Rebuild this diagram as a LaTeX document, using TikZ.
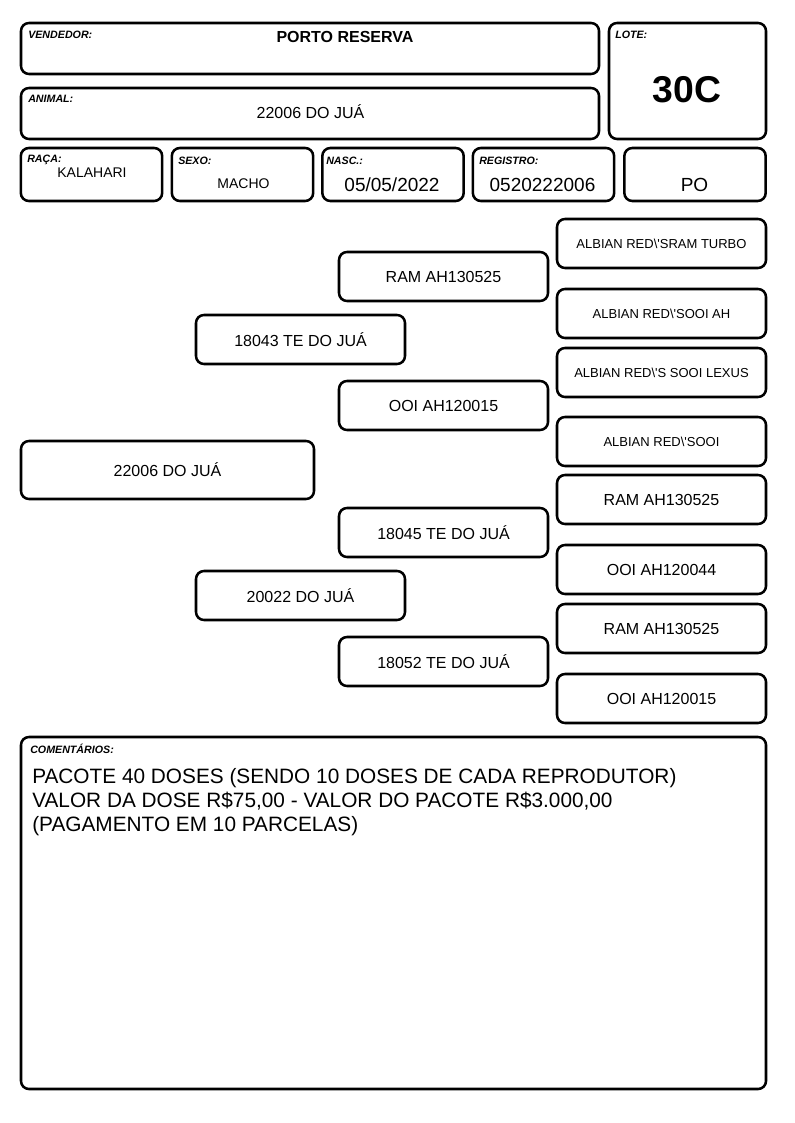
\documentclass[tikz,border=0pt]{standalone}
\usepackage{fontspec}
\setmainfont{Liberation Sans}
\usepackage{tikz}

\begin{document}
\begin{tikzpicture}[x=0.75bp,y=-0.75bp,
  box/.style={draw,line width=1.9bp,rounded corners=6bp,inner sep=0pt},
  tag/.style={anchor=base west,inner sep=0pt,font=\fontsize{8bp}{9bp}\selectfont\bfseries\itshape},
  val/.style={anchor=base,inner sep=0pt},
  cell/.style={box,minimum width=106bp,minimum height=39.75bp},
  ped/.style={box,minimum width=156.75bp,minimum height=36.75bp,font=\fontsize{12bp}{14bp}\selectfont},
  albian/.style={ped,font=\fontsize{9.75bp}{11bp}\selectfont},
  note/.style={val,anchor=base west,font=\fontsize{15.6bp}{18bp}\selectfont}]
  \useasboundingbox (0,0) rectangle (794,1123);

  % header
  \node[box,minimum width=433.5bp,minimum height=38.25bp] (vend) at (310,48.5) {};
  \node[box,minimum width=433.5bp,minimum height=38.25bp] (anim) at (310,113.5) {};
  \node[box,minimum width=117.75bp,minimum height=87bp] (lote) at (687.5,81) {};
  \node[cell] (raca) at (91.5,174.5) {};
  \node[cell] (sexo) at (242.5,174.5) {};
  \node[cell] (nasc) at (393,174.5) {};
  \node[cell] (reg) at (543.5,174.5) {};
  \node[cell] (po) at (695,174.5) {};

  \node[tag] (vendt) at (28,39) {VENDEDOR:};
  \node[tag] (animt) at (28,103) {ANIMAL:};
  \node[tag] (lotet) at (615,39) {LOTE:};
  \node[tag] (racat) at (27,163) {RAÇA:};
  \node[tag] (sexot) at (178,165) {SEXO:};
  \node[tag] (nasct) at (326,165) {NASC.:};
  \node[tag] (regt) at (479,165) {REGISTRO:};

  \node[val,font=\fontsize{12bp}{14bp}\selectfont\bfseries] (vendv) at (345,43) {PORTO RESERVA};
  \node[val,font=\fontsize{12bp}{14bp}\selectfont] (animv) at (310.5,119) {22006 DO JUÁ};
  \node[val,font=\fontsize{28bp}{30bp}\selectfont\bfseries] (lotev) at (687,103) {30C};
  \node[val,font=\fontsize{10.5bp}{12bp}\selectfont] (racav) at (92,178) {KALAHARI};
  \node[val,font=\fontsize{10.5bp}{12bp}\selectfont] (sexov) at (243.5,189) {MACHO};
  \node[val,font=\fontsize{14.25bp}{16bp}\selectfont] (nascv) at (392,192) {05/05/2022};
  \node[val,font=\fontsize{14.25bp}{16bp}\selectfont] (regv) at (542.5,192) {0520222006};
  \node[val,font=\fontsize{14.25bp}{16bp}\selectfont] (pov) at (694.5,192) {PO};

  % pedigree
  \node[ped,minimum width=219.75bp,minimum height=43.5bp] (an) at (167.5,470) {22006 DO JUÁ};
  \node[ped] (s) at (300.5,339.5) {18043 TE DO JUÁ};
  \node[ped] (d) at (300.5,595.5) {20022 DO JUÁ};
  \node[ped] (ss) at (443.5,276.5) {RAM AH130525};
  \node[ped] (sd) at (443.5,405.5) {OOI AH120015};
  \node[ped] (ds) at (443.5,532.5) {18045 TE DO JUÁ};
  \node[ped] (dd) at (443.5,661.5) {18052 TE DO JUÁ};
  \node[albian] (sss) at (661.5,243.5) {ALBIAN RED\textbackslash\textquotesingle SRAM TURBO};
  \node[albian] (ssd) at (661.5,313.5) {ALBIAN RED\textbackslash\textquotesingle SOOI AH};
  \node[albian] (sds) at (661.5,372.5) {ALBIAN RED\textbackslash\textquotesingle S SOOI LEXUS};
  \node[albian] (sdd) at (661.5,441.5) {ALBIAN RED\textbackslash\textquotesingle SOOI};
  \node[ped] (dss) at (661.5,499.5) {RAM AH130525};
  \node[ped] (dsd) at (661.5,569.5) {OOI AH120044};
  \node[ped] (dds) at (661.5,628.5) {RAM AH130525};
  \node[ped] (ddd) at (661.5,698.5) {OOI AH120015};

  % comments
  \node[box,minimum width=558.75bp,minimum height=264bp] (com) at (393.5,913) {};
  \node[tag] (comt) at (30,753) {COMENTÁRIOS:};
  \node[note] (com1) at (32,783) {PACOTE 40 DOSES (SENDO 10 DOSES DE CADA REPRODUTOR)};
  \node[note] (com2) at (32,807) {VALOR DA DOSE R\$75,00 - VALOR DO PACOTE R\$3.000,00};
  \node[note] (com3) at (32,831) {(PAGAMENTO EM 10 PARCELAS)};
\end{tikzpicture}
\end{document}
